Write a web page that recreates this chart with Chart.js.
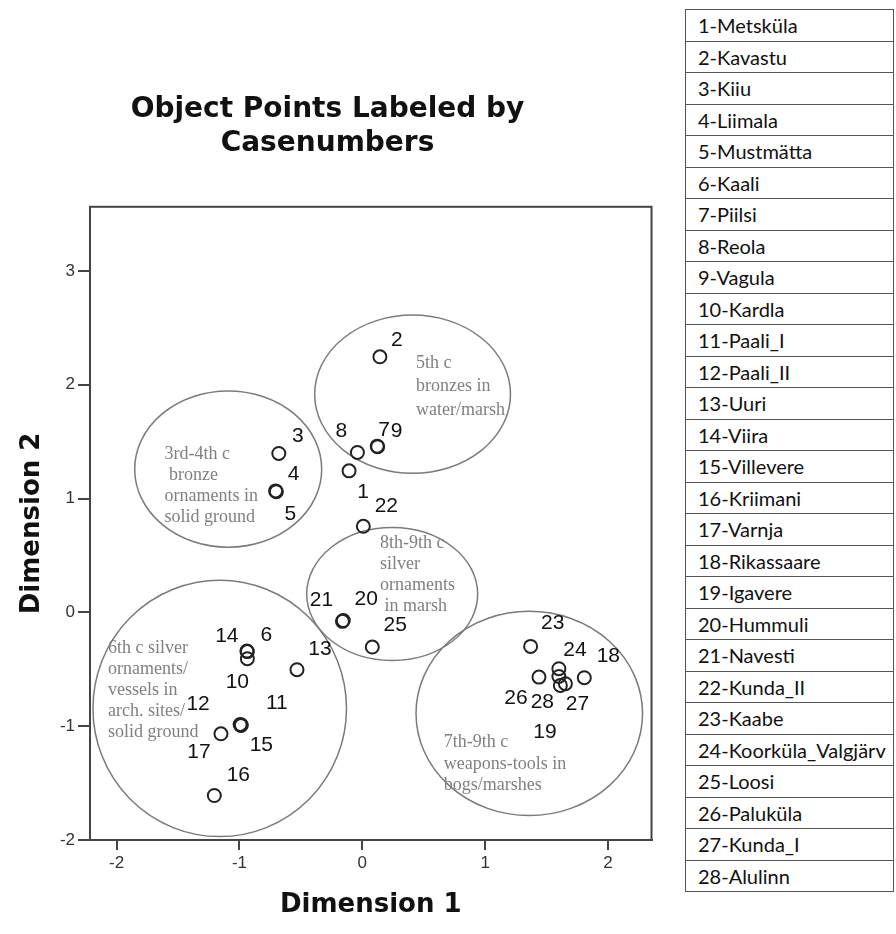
<!DOCTYPE html>
<html>
<head>
<meta charset="utf-8">
<script src="https://cdn.jsdelivr.net/npm/chart.js@4.4.1/dist/chart.umd.min.js"></script>
<style>
  body { margin: 0; background: #fff; }
  #wrap { position: relative; width: 896px; height: 934px; }
  #chart { position: absolute; left: 0; top: 0; }
  #sites {
    position: absolute; left: 685px; top: 9px; width: 209px;
    border-collapse: collapse; font-family: Lato, "Open Sans", sans-serif;
    font-size: 20px; color: #111;
  }
  #sites td {
    border: 1px solid #555; height: 30.5px; padding: 0 0 0 12px;
    white-space: nowrap; line-height: 1;
  }
</style>
</head>
<body>
<div id="wrap">
  <canvas id="chart" width="660" height="934"></canvas>
  <table id="sites"></table>
</div>
<script>
// case numbers and site names (the table on the right)
const caseNumbers = [1,2,3,4,5,6,7,8,9,10,11,12,13,14,15,16,17,18,19,20,21,22,23,24,25,26,27,28];
const siteNames = ['Metsküla','Kavastu','Kiiu','Liimala','Mustmätta','Kaali','Piilsi','Reola','Vagula','Kardla',
  'Paali_I','Paali_II','Uuri','Viira','Villevere','Kriimani','Varnja','Rikassaare','Igavere','Hummuli',
  'Navesti','Kunda_II','Kaabe','Koorküla_Valgjärv','Loosi','Paluküla','Kunda_I','Alulinn'];

// object points
const dim1 = [-0.108, 0.143, -0.680, -0.706, -0.700, -0.936, 0.121, -0.040, 0.125, -0.936,
  -0.989, -0.995, -0.532, -0.940, -0.985, -1.205, -1.151, 1.807, 1.600, -0.155,
  -0.162, 0.008, 1.370, 1.600, 0.081, 1.438, 1.653, 1.612];
const dim2 = [1.243, 2.245, 1.396, 1.067, 1.060, -0.345, 1.460, 1.405, 1.455, -0.407,
  -0.994, -0.985, -0.504, -0.340, -0.990, -1.609, -1.067, -0.574, -0.563, -0.072,
  -0.079, 0.756, -0.299, -0.495, -0.305, -0.569, -0.627, -0.642];

const xTicks = [-2, -1, 0, 1, 2];
const yTicks = [-2, -1, 0, 1, 2, 3];

// hand drawn groups: text + ellipse [cx, cy, rx, ry] in dimension units
const groupTexts = [
  ['5th c', 'bronzes in', 'water/marsh'],
  ['3rd-4th c', ' bronze', 'ornaments in', 'solid ground'],
  ['8th-9th c', 'silver', 'ornaments', ' in marsh'],
  ['6th c silver', 'ornaments/', 'vessels in', 'arch. sites/', 'solid ground'],
  ['7th-9th c', 'weapons-tools in', 'bogs/marshes']
];
const groupEllipses = [
  [0.409, 1.917, 0.797, 0.695],
  [-1.092, 1.258, 0.761, 0.686],
  [0.243, 0.161, 0.696, 0.584],
  [-1.161, -0.844, 1.032, 1.126],
  [1.359, -0.888, 0.922, 0.897]
];
const groupTextAt = [[0.437, 2.19], [-1.61, 1.39], [0.143, 0.604], [-2.071, -0.317], [0.663, -1.143]];
const groupLineH = [23.5, 21, 21, 21, 21.5];

// where each case number sits relative to its circle (px)
const labelOffsets = {
  1:[14,21], 2:[17,-17], 3:[19,-17], 4:[18,-17], 5:[14,23], 6:[19,-16], 7:[7,-16], 8:[-16,-21],
  9:[19,-16], 10:[-10,24], 11:[36,-22], 12:[-42,-20], 13:[23,-21], 14:[-20,-15], 15:[20,20],
  16:[24,-20], 17:[-22,18], 18:[24,-21], 19:[-14,56], 20:[23,-21], 21:[-21,-21], 22:[23,-20],
  23:[22,-23], 24:[16,-18], 25:[23,-22], 26:[-23,21], 27:[12,20], 28:[-18,17]
};

// table
const tbl = document.getElementById('sites');
caseNumbers.forEach(function(n, i){
  const tr = document.createElement('tr');
  const td = document.createElement('td');
  td.textContent = n + '-' + siteNames[i];
  tr.appendChild(td);
  tbl.appendChild(tr);
});

const points = caseNumbers.map(function(n, i){ return {x: dim1[i], y: dim2[i], n: n}; });

// frame, group ellipses and texts
const groupsPlugin = {
  id: 'groups',
  beforeDatasetsDraw(chart) {
    const ctx = chart.ctx, xs = chart.scales.x, ys = chart.scales.y;
    ctx.save();
    ctx.strokeStyle = '#7a7a7a';
    ctx.lineWidth = 1.5;
    groupEllipses.forEach(function(e){
      const cx = xs.getPixelForValue(e[0]), cy = ys.getPixelForValue(e[1]);
      const rx = xs.getPixelForValue(e[0] + e[2]) - cx;
      const ry = cy - ys.getPixelForValue(e[1] + e[3]);
      ctx.beginPath();
      ctx.ellipse(cx, cy, rx, ry, 0, 0, Math.PI * 2);
      ctx.stroke();
    });
    ctx.fillStyle = '#808080';
    ctx.font = '18px "Liberation Serif", "Times New Roman", serif';
    ctx.textBaseline = 'middle';
    ctx.textAlign = 'left';
    groupTexts.forEach(function(lines, g){
      const tx = xs.getPixelForValue(groupTextAt[g][0]);
      const ty = ys.getPixelForValue(groupTextAt[g][1]);
      lines.forEach(function(t, k){ ctx.fillText(t, tx, ty + k * groupLineH[g]); });
    });
    ctx.restore();
  },
  afterDatasetsDraw(chart) {
    const ctx = chart.ctx, a = chart.chartArea;
    const meta = chart.getDatasetMeta(0);
    ctx.save();
    ctx.fillStyle = '#111';
    ctx.font = '21px "Liberation Sans", Arial, sans-serif';
    ctx.textAlign = 'center';
    ctx.textBaseline = 'middle';
    meta.data.forEach(function(el, i){
      const off = labelOffsets[caseNumbers[i]];
      ctx.fillText(String(caseNumbers[i]), el.x + off[0], el.y + off[1]);
    });
    // box round the plot
    ctx.strokeStyle = '#444';
    ctx.lineWidth = 2;
    ctx.strokeRect(a.left, a.top, a.right - a.left, a.bottom - a.top);
    ctx.restore();
  }
};

const ctx = document.getElementById('chart').getContext('2d');
new Chart(ctx, {
  type: 'scatter',
  data: {
    datasets: [{
      data: points,
      pointStyle: 'circle',
      pointRadius: 6.5,
      pointBorderWidth: 2,
      borderColor: '#222',
      backgroundColor: 'rgba(0,0,0,0)'
    }]
  },
  options: {
    responsive: false,
    animation: false,
    devicePixelRatio: 1,
    layout: { padding: { left: 0, right: 5, top: 0, bottom: 0 } },
    plugins: {
      legend: { display: false },
      tooltip: { enabled: false },
      title: {
        display: true,
        text: ['Object Points Labeled by', 'Casenumbers'],
        color: '#111',
        font: { family: 'DejaVu Sans', weight: 'bold', size: 28, lineHeight: 1.2 },
        padding: { top: 93, bottom: 46.6 }
      }
    },
    scales: {
      x: {
        type: 'linear',
        min: -2.217, max: 2.354,
        afterFit: function(s){ s.height = 94; },
        afterBuildTicks: function(s){ s.ticks = xTicks.map(function(v){ return {value: v}; }); },
        ticks: { includeBounds: false, color: '#333', padding: 3,
                 font: { family: 'Liberation Sans', size: 17 } },
        grid: { drawOnChartArea: false, drawTicks: true, tickLength: 10, color: '#444', lineWidth: 2 },
        border: { display: true, color: '#444', width: 2 },
        title: { display: true, text: 'Dimension 1', color: '#111',
                 font: { family: 'DejaVu Sans', weight: 'bold', size: 26, lineHeight: 1.2 },
                 padding: { top: 0, bottom: 13 } }
      },
      y: {
        type: 'linear',
        min: -2, max: 3.563,
        afterFit: function(s){ s.width = 90; },
        afterBuildTicks: function(s){ s.ticks = yTicks.map(function(v){ return {value: v}; }); },
        ticks: { includeBounds: false, color: '#333', padding: 3,
                 font: { family: 'Liberation Sans', size: 17 } },
        grid: { drawOnChartArea: false, drawTicks: true, tickLength: 12, color: '#444', lineWidth: 2 },
        border: { display: true, color: '#444', width: 2 },
        title: { display: true, text: 'Dimension 2', color: '#111',
                 font: { family: 'DejaVu Sans', weight: 'bold', size: 26, lineHeight: 1.2 },
                 padding: { top: 17, bottom: 0 } }
      }
    }
  },
  plugins: [groupsPlugin]
});
</script>
</body>
</html>
